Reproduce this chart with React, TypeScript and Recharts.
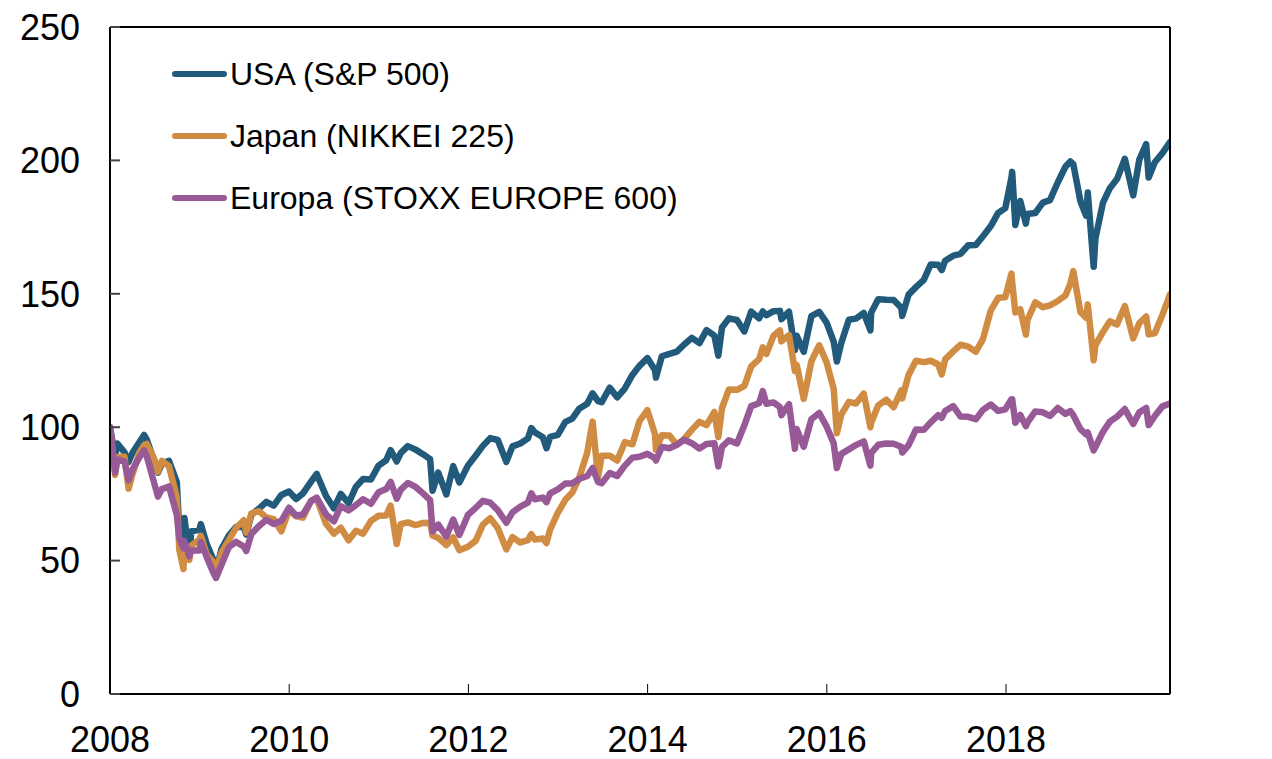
import React from "react"
import {
  LineChart,
  Line,
  XAxis,
  YAxis,
  Legend,
  ReferenceLine
} from "recharts"

// index, end of 2007 = 100
const dates = [
  "2008-01-01", "2008-01-22", "2008-01-31", "2008-02-29", "2008-03-17", "2008-03-31",
  "2008-04-30", "2008-05-19", "2008-05-30", "2008-06-30", "2008-07-15", "2008-07-31",
  "2008-08-29", "2008-09-30", "2008-10-10", "2008-10-27", "2008-10-31", "2008-11-20",
  "2008-11-28", "2008-12-31", "2009-01-06", "2009-01-30", "2009-02-27", "2009-03-09",
  "2009-03-31", "2009-04-30", "2009-05-29", "2009-06-30", "2009-07-10", "2009-07-31",
  "2009-08-31", "2009-09-30", "2009-10-30", "2009-11-30", "2009-12-31", "2010-01-29",
  "2010-02-26", "2010-03-31", "2010-04-23", "2010-05-31", "2010-07-02", "2010-07-30",
  "2010-08-31", "2010-09-30", "2010-10-29", "2010-11-30", "2010-12-31", "2011-01-31",
  "2011-02-18", "2011-03-15", "2011-03-31", "2011-04-29", "2011-05-31", "2011-06-30",
  "2011-07-29", "2011-08-08", "2011-08-31", "2011-10-03", "2011-10-31", "2011-11-25",
  "2011-12-30", "2012-01-31", "2012-02-29", "2012-03-30", "2012-04-30", "2012-06-04",
  "2012-06-29", "2012-07-31", "2012-08-31", "2012-09-14", "2012-09-28", "2012-10-31",
  "2012-11-15", "2012-11-30", "2012-12-31", "2013-01-31", "2013-02-28", "2013-03-28",
  "2013-04-30", "2013-05-22", "2013-06-13", "2013-06-28", "2013-07-31", "2013-08-30",
  "2013-09-30", "2013-10-31", "2013-11-29", "2013-12-31", "2014-01-31", "2014-02-04",
  "2014-02-28", "2014-03-31", "2014-04-30", "2014-05-30", "2014-06-30", "2014-07-31",
  "2014-08-29", "2014-09-30", "2014-10-16", "2014-10-31", "2014-11-28", "2014-12-31",
  "2015-01-30", "2015-02-27", "2015-03-31", "2015-04-15", "2015-04-30", "2015-05-29",
  "2015-06-24", "2015-06-30", "2015-07-31", "2015-08-24", "2015-08-31", "2015-09-29",
  "2015-10-30", "2015-12-01", "2015-12-31", "2016-01-29", "2016-02-11", "2016-02-29",
  "2016-03-31", "2016-04-29", "2016-05-31", "2016-06-27", "2016-06-30", "2016-07-29",
  "2016-08-31", "2016-09-30", "2016-10-31", "2016-11-04", "2016-11-30", "2016-12-30",
  "2017-01-31", "2017-02-28", "2017-03-31", "2017-04-14", "2017-04-28", "2017-05-31",
  "2017-06-30", "2017-07-31", "2017-08-31", "2017-09-29", "2017-10-31", "2017-11-30",
  "2017-12-29", "2018-01-23", "2018-01-26", "2018-02-08", "2018-02-28", "2018-03-23",
  "2018-03-29", "2018-04-30", "2018-05-31", "2018-06-29", "2018-07-31", "2018-08-31",
  "2018-09-20", "2018-10-02", "2018-10-31", "2018-11-23", "2018-11-30", "2018-12-24",
  "2018-12-31", "2019-01-31", "2019-02-28", "2019-03-29", "2019-04-30", "2019-06-03",
  "2019-06-28", "2019-07-26", "2019-08-05", "2019-08-30", "2019-09-30", "2019-10-31"
]

const usa = [
  100, 89.2, 93.9, 90.6, 86.9, 90.1,
  94.4, 97.1, 95.4, 87.2, 83.0, 86.3,
  87.4, 79.4, 61.2, 57.8, 66.0, 51.2,
  61.0, 61.5, 63.7, 56.2, 50.1, 46.1,
  54.3, 59.4, 62.6, 62.6, 59.8, 67.2,
  69.5, 72.0, 70.6, 74.6, 75.9, 73.1,
  75.2, 79.6, 82.5, 74.2, 69.6, 75.0,
  71.5, 77.7, 80.6, 80.4, 85.6, 87.6,
  91.4, 87.2, 90.3, 92.9, 91.6, 89.9,
  88.0, 76.2, 83.0, 74.8, 85.4, 79.3,
  85.6, 89.4, 93.0, 95.9, 95.2, 87.0,
  92.8, 93.9, 95.8, 99.7, 98.1, 96.2,
  92.1, 96.4, 97.1, 102.0, 103.2, 106.9,
  108.8, 112.7, 109.8, 109.4, 114.8, 111.2,
  114.5, 119.6, 123.0, 125.9, 121.4, 118.6,
  126.6, 127.5, 128.3, 131.0, 133.5, 131.5,
  136.4, 134.3, 126.8, 137.4, 140.8, 140.2,
  135.9, 143.3, 140.8, 143.4, 142.0, 143.5,
  143.6, 140.5, 143.3, 128.9, 134.3, 128.3,
  141.6, 143.2, 139.2, 132.1, 124.6, 131.6,
  140.3, 140.7, 142.8, 136.3, 142.9, 148.0,
  147.8, 147.7, 144.8, 141.7, 149.7, 152.5,
  155.2, 161.0, 160.9, 158.9, 162.4, 164.3,
  165.0, 168.2, 168.3, 171.6, 175.4, 180.3,
  182.1, 193.5, 195.7, 175.8, 184.8, 176.3,
  179.9, 180.3, 184.2, 185.1, 191.8, 197.6,
  199.6, 198.6, 184.7, 179.3, 188.0, 160.1,
  170.7, 184.2, 189.6, 193.0, 200.6, 186.9,
  200.3, 206.1, 193.6, 199.3, 202.7, 206.9
]

const japan = [
  100, 82.1, 88.8, 88.9, 77.0, 81.8,
  90.5, 93.2, 93.7, 88.1, 83.3, 87.4,
  85.4, 73.6, 54.1, 46.8, 56.0, 50.3,
  55.6, 57.9, 59.3, 52.2, 49.4, 46.3,
  53.0, 57.7, 62.2, 65.1, 60.5, 67.7,
  68.5, 66.2, 65.5, 61.0, 68.9, 66.6,
  66.1, 72.4, 73.2, 63.8, 60.1, 62.3,
  57.6, 61.2, 60.1, 64.9, 66.8, 66.9,
  70.6, 56.2, 63.7, 64.3, 63.3, 64.1,
  64.2, 59.4, 58.5, 55.8, 58.7, 53.9,
  55.2, 57.5, 63.5, 65.9, 62.2, 54.2,
  58.8, 56.8, 57.7, 59.9, 57.9, 58.3,
  56.6, 61.7, 67.9, 72.8, 75.5, 81.0,
  90.5, 102.1, 81.3, 89.3, 89.3, 87.5,
  94.4, 93.6, 102.3, 106.4, 97.4, 91.5,
  97.0, 96.9, 93.4, 95.6, 99.0, 102.0,
  100.8, 105.7, 96.3, 107.2, 114.1, 114.0,
  115.5, 122.8, 125.5, 129.9, 127.5, 134.3,
  136.3, 132.2, 134.5, 121.1, 123.4, 110.6,
  124.7, 130.7, 124.3, 114.4, 97.7, 104.7,
  109.5, 108.9, 112.6, 100.0, 101.7, 108.2,
  110.3, 107.5, 113.8, 110.8, 119.6, 124.9,
  124.4, 124.9, 123.5, 119.8, 125.4, 128.4,
  130.9, 130.2, 128.3, 133.0, 143.8, 148.5,
  148.7, 157.6, 154.4, 143.0, 144.2, 134.7,
  140.1, 146.8, 145.0, 145.7, 147.3, 149.4,
  153.8, 158.5, 143.2, 141.0, 146.0, 125.1,
  130.7, 135.7, 139.7, 138.5, 145.4, 133.3,
  139.0, 141.5, 134.8, 135.2, 142.1, 149.8
]

const europa = [
  100, 83.0, 87.9, 87.2, 80.1, 83.8,
  88.7, 91.3, 89.2, 78.9, 74.0, 76.8,
  77.8, 67.1, 58.4, 54.6, 57.4, 51.6,
  53.8, 53.8, 57.0, 51.3, 45.3, 43.5,
  48.4, 55.0, 57.0, 55.3, 53.6, 60.0,
  63.0, 65.3, 63.7, 64.9, 69.8, 66.9,
  67.3, 72.3, 73.6, 67.3, 64.7, 70.4,
  68.8, 70.8, 73.0, 71.3, 75.6, 76.8,
  79.5, 73.2, 76.5, 79.1, 77.6, 75.2,
  72.7, 60.9, 63.5, 59.0, 65.4, 59.6,
  67.1, 69.8, 72.4, 71.7, 68.9, 64.2,
  68.1, 70.2, 71.7, 75.2, 73.0, 73.6,
  71.9, 75.2, 76.7, 78.9, 78.9, 80.6,
  81.7, 84.7, 79.5, 79.0, 82.8, 81.7,
  85.6, 88.6, 88.9, 90.0, 88.4, 87.5,
  92.6, 92.1, 93.4, 95.3, 94.0, 92.0,
  93.7, 94.0, 85.3, 92.6, 95.1, 93.9,
  100.7, 107.9, 109.0, 113.5, 108.8, 109.3,
  107.5, 104.5, 108.6, 91.9, 99.3, 92.7,
  103.0, 105.3, 100.3, 94.0, 84.7, 90.0,
  91.7, 93.3, 94.7, 85.6, 90.3, 93.4,
  93.9, 93.8, 92.7, 90.5, 93.3, 99.1,
  99.0, 101.8, 104.5, 103.5, 106.1, 107.9,
  104.0, 103.9, 103.0, 106.5, 108.5, 106.1,
  106.7, 110.5, 110.5, 101.7, 104.6, 100.4,
  101.7, 105.9, 105.6, 104.2, 107.2, 105.0,
  106.0, 104.5, 99.3, 97.3, 98.0, 91.3,
  92.6, 98.3, 102.1, 104.0, 106.8, 101.2,
  105.6, 107.2, 100.8, 104.2, 107.8, 108.9
]

const yearTicks = [2008, 2010, 2012, 2014, 2016, 2018]
const valueTicks = [0, 50, 100, 150, 200, 250]

const seriesInfo = [
  { key: "usa", name: "USA (S&P 500)", color: "#215a7a" },
  { key: "japan", name: "Japan (NIKKEI 225)", color: "#cf8c42" },
  { key: "europa", name: "Europa (STOXX EUROPE 600)", color: "#985a96" }
]

const toYear = (d: string) => {
  const [y, m, day] = d.split("-").map(Number)
  const start = Date.UTC(y, 0, 1)
  const end = Date.UTC(y + 1, 0, 1)
  return y + (Date.UTC(y, m - 1, day) - start) / (end - start)
}

const data = dates.map((d, i) => ({
  t: toYear(d),
  usa: usa[i],
  japan: japan[i],
  europa: europa[i]
}))

const font = "'Liberation Sans', Arial, sans-serif"

const renderLegend = () => (
  <div style={{ fontFamily: font }}>
    {seriesInfo.map((s) => (
      <div
        key={s.key}
        style={{ display: "flex", alignItems: "center", height: 62 }}
      >
        <div
          style={{
            width: 55,
            height: 6,
            borderRadius: 3,
            background: s.color,
            marginRight: 3
          }}
        />
        <span style={{ fontSize: 32, lineHeight: "32px", color: "#000", whiteSpace: "nowrap" }}>
          {s.name}
        </span>
      </div>
    ))}
  </div>
)

export default function App() {
  return (
    <div
      style={{
        position: "absolute",
        left: 0,
        top: 0,
        width: 1272,
        height: 759,
        background: "#fff",
        fontFamily: font
      }}
    >
      <LineChart
        width={1272}
        height={759}
        data={data}
        margin={{ top: 27, right: 0, bottom: 0, left: 0 }}
      >
        <XAxis
          dataKey="t"
          type="number"
          domain={[2008, 2019.83]}
          ticks={yearTicks}
          allowDataOverflow
          height={65}
          axisLine={{ stroke: "#000", strokeWidth: 2 }}
          tickLine={{ stroke: "#000", strokeWidth: 1 }}
          tickSize={-10}
          tickMargin={42}
          tick={{ fill: "#000", fontSize: 36, fontFamily: font }}
        />
        <YAxis
          yAxisId="left"
          domain={[0, 250]}
          ticks={valueTicks}
          width={110}
          axisLine={{ stroke: "#000", strokeWidth: 2 }}
          tickLine={{ stroke: "#444", strokeWidth: 2 }}
          tickSize={-10}
          tickMargin={40}
          tick={{ fill: "#000", fontSize: 36, fontFamily: font }}
        />
        <YAxis
          yAxisId="right"
          orientation="right"
          domain={[0, 250]}
          ticks={valueTicks}
          width={102}
          axisLine={{ stroke: "#000", strokeWidth: 2 }}
          tickLine={{ stroke: "#444", strokeWidth: 2 }}
          tickSize={-10}
          tickMargin={43}
          tick={{ fill: "#000", fontSize: 36, fontFamily: font }}
        />
        <ReferenceLine yAxisId="left" y={250} stroke="#000" strokeWidth={2} />
        {seriesInfo.map((s) => (
          <Line
            key={s.key}
            yAxisId="left"
            type="linear"
            dataKey={s.key}
            name={s.name}
            stroke={s.color}
            strokeWidth={6.5}
            strokeLinejoin="round"
            strokeLinecap="round"
            dot={false}
            activeDot={false}
            isAnimationActive={false}
          />
        ))}
        <Legend
          layout="vertical"
          align="center"
          verticalAlign="middle"
          content={renderLegend}
          wrapperStyle={{ top: 43, left: 172, width: 600, height: 190 }}
        />
      </LineChart>
    </div>
  )
}
